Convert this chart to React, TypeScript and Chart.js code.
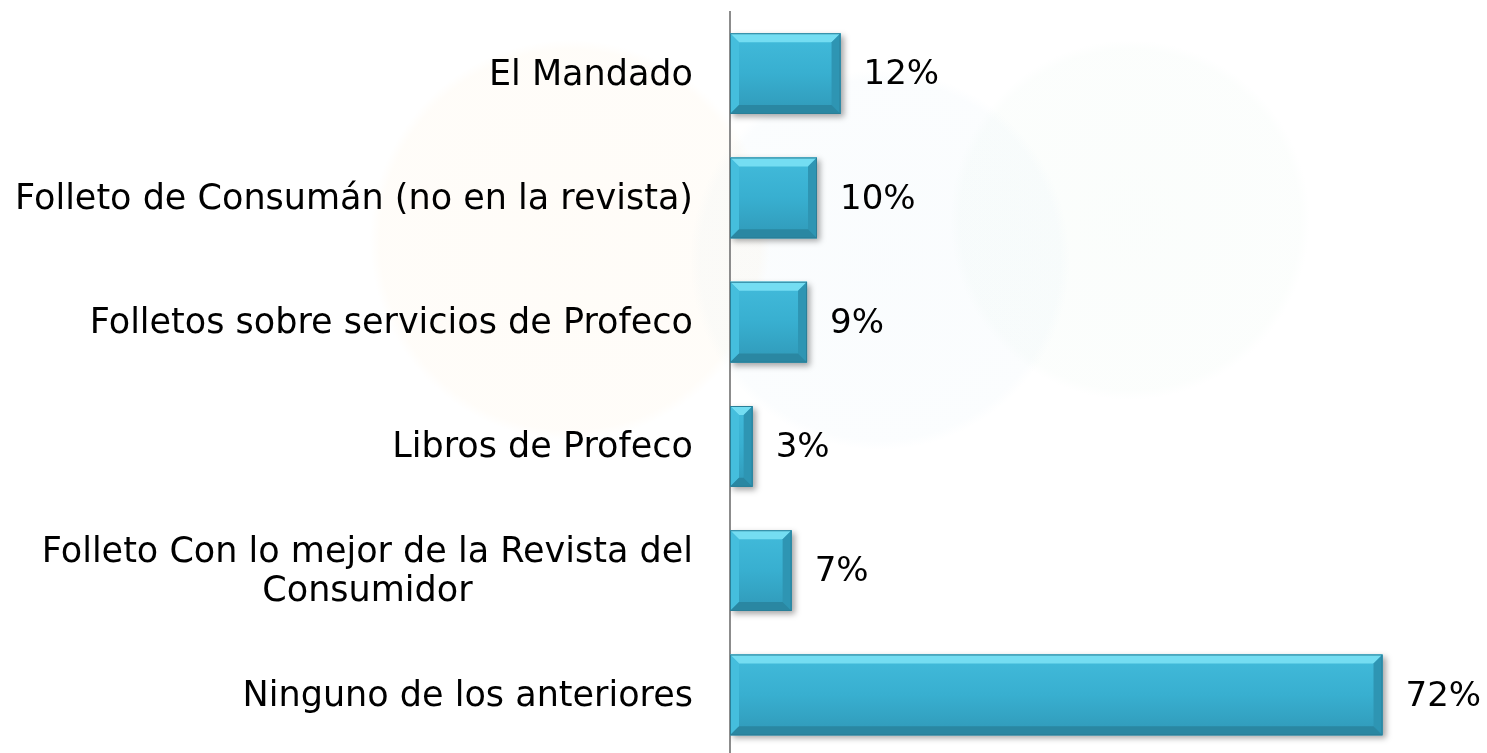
import React, { useEffect, useRef } from "react";
import { Chart, registerables } from "chart.js";

Chart.register(...registerables);

const categories: string[][] = [
  ["El Mandado"],
  ["Folleto de Consumán (no en la revista)"],
  ["Folletos sobre servicios de Profeco"],
  ["Libros de Profeco"],
  ["Folleto Con lo mejor de la Revista del", "Consumidor"],
  ["Ninguno de los anteriores"],
];
const values: number[] = [12.2, 9.6, 8.5, 2.5, 6.8, 72.0];
const valueLabels: string[] = ["12%", "10%", "9%", "3%", "7%", "72%"];

const FONT = '"DejaVu Sans", Verdana, sans-serif';

const bevelPlugin = {
  id: "bevelPlugin",
  beforeDatasetsDraw(chart: any) {
    const ctx = chart.ctx;
    ctx.save();
    ctx.shadowColor = "rgba(0,0,0,0.35)";
    ctx.shadowBlur = 6;
    ctx.shadowOffsetX = 3;
    ctx.shadowOffsetY = 3;
  },
  afterDatasetsDraw(chart: any) {
    const ctx = chart.ctx;
    ctx.restore();
    const meta = chart.getDatasetMeta(0);
    meta.data.forEach((el: any) => {
      const left = Math.min(el.base, el.x);
      const right = Math.max(el.base, el.x);
      const top = el.y - el.height / 2;
      const bottom = el.y + el.height / 2;
      const w = right - left;
      const b = Math.min(9, w / 2);
      const poly = (pts: number[][], color: any) => {
        ctx.beginPath();
        ctx.moveTo(pts[0][0], pts[0][1]);
        for (let i = 1; i < pts.length; i++) ctx.lineTo(pts[i][0], pts[i][1]);
        ctx.closePath();
        ctx.fillStyle = color;
        ctx.fill();
      };
      ctx.save();
      const g = ctx.createLinearGradient(0, top, 0, bottom);
      g.addColorStop(0, "#42BBDB");
      g.addColorStop(0.5, "#38AFD0");
      g.addColorStop(1, "#3099B8");
      poly([[left, top], [right, top], [right, bottom], [left, bottom]], g);
      poly([[left, top], [right, top], [right - b, top + b], [left + b, top + b]], "#74DDF2");
      poly([[left, top], [left + b, top + b], [left + b, bottom - b], [left, bottom]], "#45BEDD");
      poly([[right, top], [right, bottom], [right - b, bottom - b], [right - b, top + b]], "#2E95B3");
      poly([[left, bottom], [left + b, bottom - b], [right - b, bottom - b], [right, bottom]], "#2A87A2");
      ctx.strokeStyle = "#2A7F98";
      ctx.lineWidth = 1;
      ctx.strokeRect(left + 0.5, top + 0.5, w - 1, bottom - top - 1);
      ctx.restore();
    });
    ctx.save();
    ctx.font = `34px ${FONT}`;
    ctx.fillStyle = "#000";
    ctx.textAlign = "left";
    ctx.textBaseline = "middle";
    meta.data.forEach((el: any, i: number) => {
      ctx.fillText(valueLabels[i], el.x + 23, el.y + 2);
    });
    ctx.restore();
    const yScale = chart.scales.y;
    const xRight = chart.chartArea.left - 37;
    ctx.save();
    ctx.font = `35px ${FONT}`;
    ctx.fillStyle = "#000";
    ctx.textBaseline = "middle";
    ctx.textAlign = "center";
    categories.forEach((lines, i) => {
      const cy = yScale.getPixelForValue(i) + 2;
      const widths = lines.map((l) => ctx.measureText(l).width);
      const maxW = Math.max(...widths);
      const lh = 39;
      const startY = cy - ((lines.length - 1) * lh) / 2;
      lines.forEach((l, j) => {
        ctx.fillText(l, xRight - maxW / 2, startY + j * lh);
      });
    });
    ctx.restore();
  },
};

export default function App() {
  const ref = useRef<HTMLCanvasElement>(null);
  useEffect(() => {
    if (!ref.current) return;
    const chart = new Chart(ref.current, {
      type: "bar",
      data: {
        labels: categories.map((c) => c.join(" ")),
        datasets: [
          {
            data: values,
            backgroundColor: "#38AFD0",
            borderWidth: 0,
            categoryPercentage: 0.65,
            barPercentage: 1,
          },
        ],
      },
      options: {
        indexAxis: "y",
        animation: false,
        responsive: false,
        maintainAspectRatio: false,
        layout: { padding: { left: 730, top: 11.5, bottom: 3, right: 32 } },
        plugins: { legend: { display: false }, tooltip: { enabled: false } },
        scales: {
          x: { display: false, min: 0, max: 80 },
          y: {
            grid: { display: false, drawTicks: false },
            border: { display: true, color: "#8c8c8c", width: 2 },
            ticks: { display: false },
          },
        },
      },
      plugins: [bevelPlugin],
    } as any);
    return () => chart.destroy();
  }, []);
  return (
    <div
      style={{
        position: "fixed",
        left: 0,
        top: 0,
        width: 1487,
        height: 760,
        background:
          "radial-gradient(circle at 570px 240px, rgba(255,205,130,0.06) 0, rgba(255,205,130,0.05) 190px, rgba(255,255,255,0) 200px), radial-gradient(circle at 880px 260px, rgba(150,200,230,0.05) 0, rgba(150,200,230,0.04) 180px, rgba(255,255,255,0) 190px), radial-gradient(circle at 1130px 220px, rgba(170,220,190,0.05) 0, rgba(170,220,190,0.04) 170px, rgba(255,255,255,0) 180px), #ffffff",
      }}
    >
      <canvas ref={ref} width={1487} height={760} style={{ display: "block" }} />
    </div>
  );
}
